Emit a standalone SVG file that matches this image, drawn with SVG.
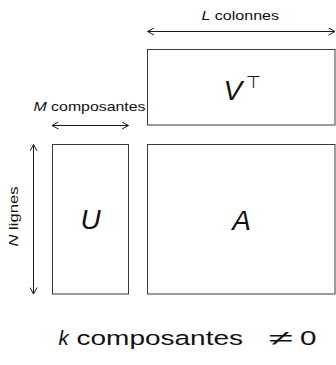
<svg xmlns="http://www.w3.org/2000/svg" width="336" height="365" viewBox="0 0 336 365">
  <style>
    .box { fill: #ffffff; stroke: #3a3a3a; stroke-width: 1; }
    .dim { stroke: #1a1a1a; stroke-width: 1; fill: none; marker-start: url(#tip); marker-end: url(#tip); }
    .lbl { font-family: "Liberation Sans", Arial, sans-serif; font-size: 13px; fill: #111; }
    .big { font-family: "Liberation Sans", Arial, sans-serif; font-size: 28px; font-style: italic; fill: #111; }
    .it { font-style: italic; }
  </style>
  <defs>
    <marker id="tip" viewBox="0 0 8 8" refX="7.5" refY="4" markerWidth="8" markerHeight="8" markerUnits="userSpaceOnUse" orient="auto-start-reverse">
      <path d="M1,0.5 L7.5,4 L1,7.5" fill="none" stroke="#1a1a1a" stroke-width="1"/>
    </marker>
  </defs>

  <!-- dimension arrows -->
  <g id="connectors">
    <line class="dim" x1="147.5" y1="31.5" x2="335" y2="31.5"/>
    <line class="dim" x1="52" y1="125.5" x2="128.5" y2="125.5"/>
    <line class="dim" x1="33.5" y1="144.5" x2="33.5" y2="294"/>
  </g>

  <!-- matrix V transposed -->
  <g id="vt">
    <rect class="box" x="147.5" y="49.5" width="187.5" height="75.5"/>
    <text class="big" x="223.5" y="100">V<tspan font-family="DejaVu Sans, sans-serif" font-style="normal" font-size="17" dx="4" dy="-12">⊤</tspan></text>
  </g>

  <!-- matrix U -->
  <g id="u">
    <rect class="box" x="52.5" y="144.5" width="76" height="149.5"/>
    <text class="big" x="90.5" y="229" text-anchor="middle">U</text>
  </g>

  <!-- matrix A -->
  <g id="a">
    <rect class="box" x="147.5" y="144.5" width="187.5" height="149.5"/>
    <text class="big" x="241.5" y="230" text-anchor="middle">A</text>
  </g>

  <!-- dimension labels -->
  <g id="labels">
    <text class="lbl" x="201.5" y="20" textLength="77.5" lengthAdjust="spacingAndGlyphs"><tspan class="it">L</tspan> colonnes</text>
    <text class="lbl" x="33.5" y="111" textLength="112" lengthAdjust="spacingAndGlyphs"><tspan class="it">M</tspan> composantes</text>
    <text class="lbl" transform="translate(17.5,246.5) rotate(-90)" textLength="60" lengthAdjust="spacingAndGlyphs"><tspan class="it">N</tspan> lignes</text>
  </g>

  <!-- caption -->
  <g id="caption">
    <text class="lbl" style="font-size:20.5px" y="345"><tspan class="it" x="58.5">k </tspan><tspan x="76.5" textLength="174.3" lengthAdjust="spacingAndGlyphs">composantes </tspan><tspan x="268" textLength="37" lengthAdjust="spacingAndGlyphs">≠ </tspan><tspan x="300" textLength="16.5" lengthAdjust="spacingAndGlyphs">0</tspan></text>
  </g>
</svg>
